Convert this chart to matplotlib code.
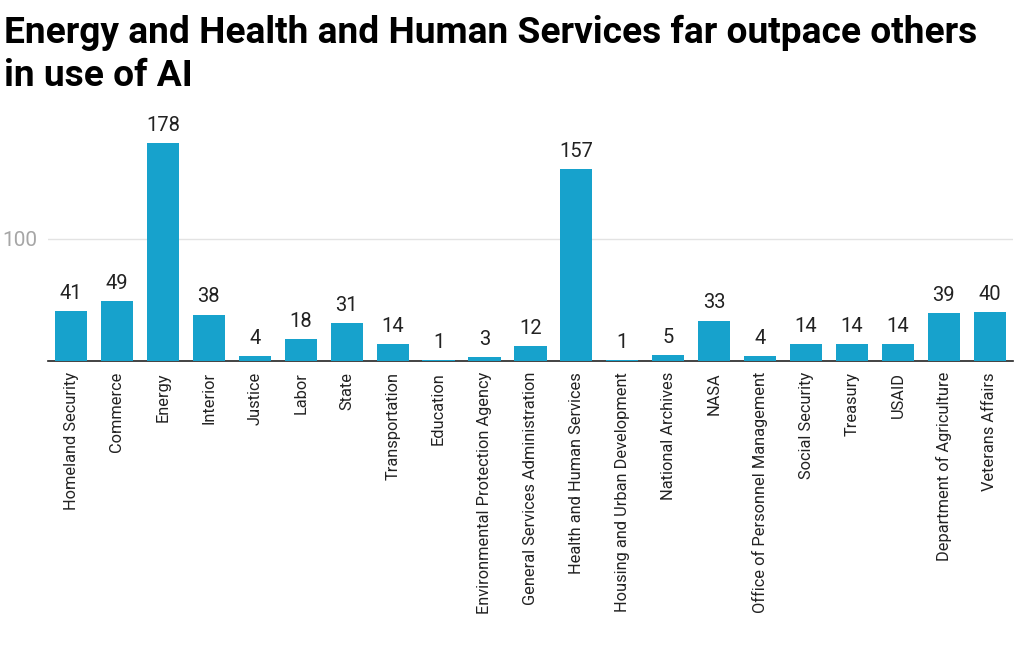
import matplotlib.pyplot as plt

plt.rcParams['font.family'] = ['Roboto', 'DejaVu Sans']

agencies = ["Homeland Security", "Commerce", "Energy", "Interior", "Justice", "Labor",
            "State", "Transportation", "Education", "Environmental Protection Agency",
            "General Services Administration", "Health and Human Services",
            "Housing and Urban Development", "National Archives", "NASA",
            "Office of Personnel Management", "Social Security", "Treasury", "USAID",
            "Department of Agriculture", "Veterans Affairs"]
counts = [41, 49, 178, 38, 4, 18, 31, 14, 1, 3, 12, 157, 1, 5, 33, 4, 14, 14, 14, 39, 40]

fig = plt.figure(figsize=(10.23, 6.51), dpi=100)
ax = fig.add_axes([0.047, 0.4455, 0.943, 0.366])

x = range(len(agencies))
bars = ax.bar(x, counts, width=0.7, color='#17a2cc', zorder=3)
for xi, v in zip(x, counts):
    ax.text(xi, v + 10, str(v), ha='center', va='baseline', fontsize=14.5, color='#222222')

ax.set_xlim(-0.5, len(agencies) - 0.5)
ax.set_ylim(0, 195)
ax.set_yticks([100])
ax.yaxis.grid(True, color='#e3e3e3', linewidth=1, zorder=0)
ax.tick_params(axis='y', length=0, labelsize=15, labelcolor='#a6a6a6', pad=8)
ax.set_xticks(list(x))
ax.set_xticklabels(agencies, rotation=90, fontsize=11.8, color='#222222')
ax.tick_params(axis='x', length=0, pad=8)
for s in ['top', 'right', 'left']:
    ax.spines[s].set_visible(False)
ax.spines['bottom'].set_color('#222222')
ax.spines['bottom'].set_linewidth(1.2)

title_lines = ["Energy and Health and Human Services far outpace others", "in use of AI"]
for i, line in enumerate(title_lines):
    fig.text(0.004, 1 - (43 + 43 * i) / 651, line, ha='left', va='baseline',
             fontsize=26.7, fontweight='bold', color='black')

fig.savefig('out.png', dpi=100)
